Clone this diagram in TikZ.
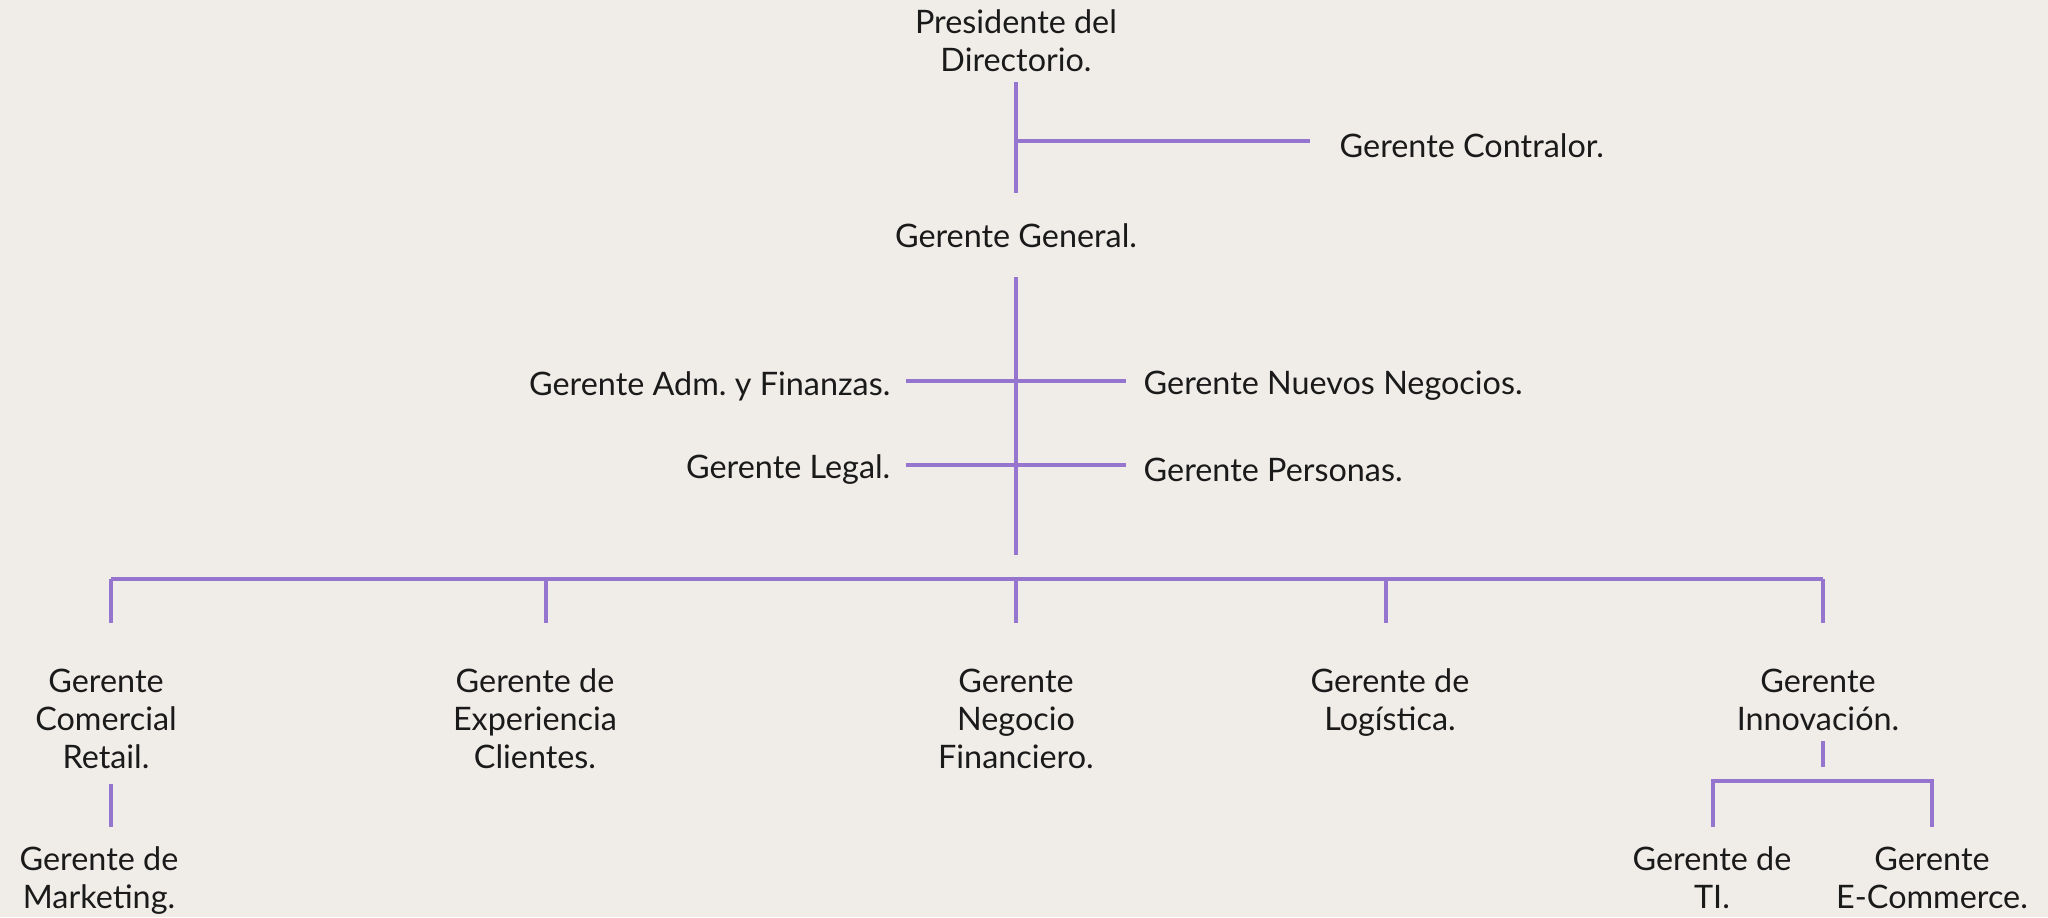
\documentclass[tikz,border=0pt]{standalone}
\usepackage{fontspec}
\setsansfont{Lato}
\usepackage{xcolor}
\usetikzlibrary{positioning, calc}

\definecolor{paper}{HTML}{F0EDE8}
\definecolor{lilac}{HTML}{9575CD}
\definecolor{ink}{HTML}{1A1A1A}

\begin{document}
\begin{tikzpicture}[
        x=0.01cm, y=-0.01cm, % one unit = one pixel of the 2048 x 917 sheet
        font=\sffamily\fontsize{9.2}{10.8}\selectfont,
        role/.style={text=ink, inner sep=0pt, align=center},
        orgline/.style={draw=lilac, line width=0.9pt},
    ]

    % --- INTERNAL FIGURE PARAMETERS ---
    \pgfmathsetmacro{\figwidth}{2048}
    \pgfmathsetmacro{\figheight}{917}
    \pgfmathsetmacro{\spine}{1016}
    \pgfmathsetmacro{\busy}{579}
    \pgfmathsetmacro{\droplow}{623}
    \pgfmathsetmacro{\rowtop}{668}
    \pgfmathsetmacro{\lasttop}{846}

    % Background
    \fill[paper] (0,0) rectangle (\figwidth,\figheight);
    \useasboundingbox (0,0) rectangle (\figwidth,\figheight);

    % Top of the chart
    \node[role] (pres) at (\spine,41) {Presidente del\\Directorio.};
    \node[role, anchor=west] (contr) at (1339,146) {Gerente Contralor.};
    \node[role] (gen) at (\spine,236) {Gerente General.};

    \coordinate (presfoot) at (\spine,82);
    \coordinate (genhead) at (\spine,193);
    \coordinate (contrtee) at (\spine,141);
    \coordinate (contrend) at (1310,141);
    \draw[orgline] (presfoot) -- (genhead);
    \draw[orgline] (contrtee) -- (contrend);

    % Staff managers beside the spine
    \node[role, anchor=east] (adm) at (891,386) {Gerente Adm.\ y Finanzas.};
    \node[role, anchor=west] (nue) at (1143,386) {Gerente Nuevos Negocios.};
    \node[role, anchor=east] (leg) at (891,470) {Gerente Legal.};
    \node[role, anchor=west] (per) at (1143,470) {Gerente Personas.};

    \coordinate (genfoot) at (\spine,277);
    \coordinate (spineend) at (\spine,555);
    \draw[orgline] (genfoot) -- (spineend);
    \draw[orgline] ($(adm.east)+(15,-5)$) -- ($(nue.west)+(-17,-5)$);
    \draw[orgline] ($(leg.east)+(15,-5)$) -- ($(per.west)+(-17,-5)$);

    % Line managers
    \node[role, anchor=north] (com) at (106,\rowtop) {Gerente\\Comercial\\Retail.};
    \node[role, anchor=north] (exp) at (535,\rowtop) {Gerente de\\Experiencia\\Clientes.};
    \node[role, anchor=north] (neg) at (\spine,\rowtop) {Gerente\\Negocio\\Financiero.};
    \node[role, anchor=north] (log) at (1390,\rowtop) {Gerente de\\Logística.};
    \node[role, anchor=north] (inn) at (1818,\rowtop) {Gerente\\Innovación.};

    \draw[orgline] (111,\busy) -- (1823,\busy);
    \foreach \x/\who in {111/com, 546/exp, 1016/neg, 1386/log, 1823/inn}{
        \draw[orgline] (\x,\busy) -- (\x,\droplow);
    }

    % Second level below
    \node[role, anchor=north] (mkt) at (99,\lasttop) {Gerente de\\Marketing.};
    \node[role, anchor=north] (ti) at (1712,\lasttop) {Gerente de\\TI.};
    \node[role, anchor=north] (ecom) at (1932,\lasttop) {Gerente\\E-Commerce.};

    \draw[orgline] (111,784) -- (111,827);
    \draw[orgline] (1823,741) -- (1823,767);
    \draw[orgline] (1713,827) -- (1713,781) -- (1932,781) -- (1932,827);

\end{tikzpicture}
\end{document}
